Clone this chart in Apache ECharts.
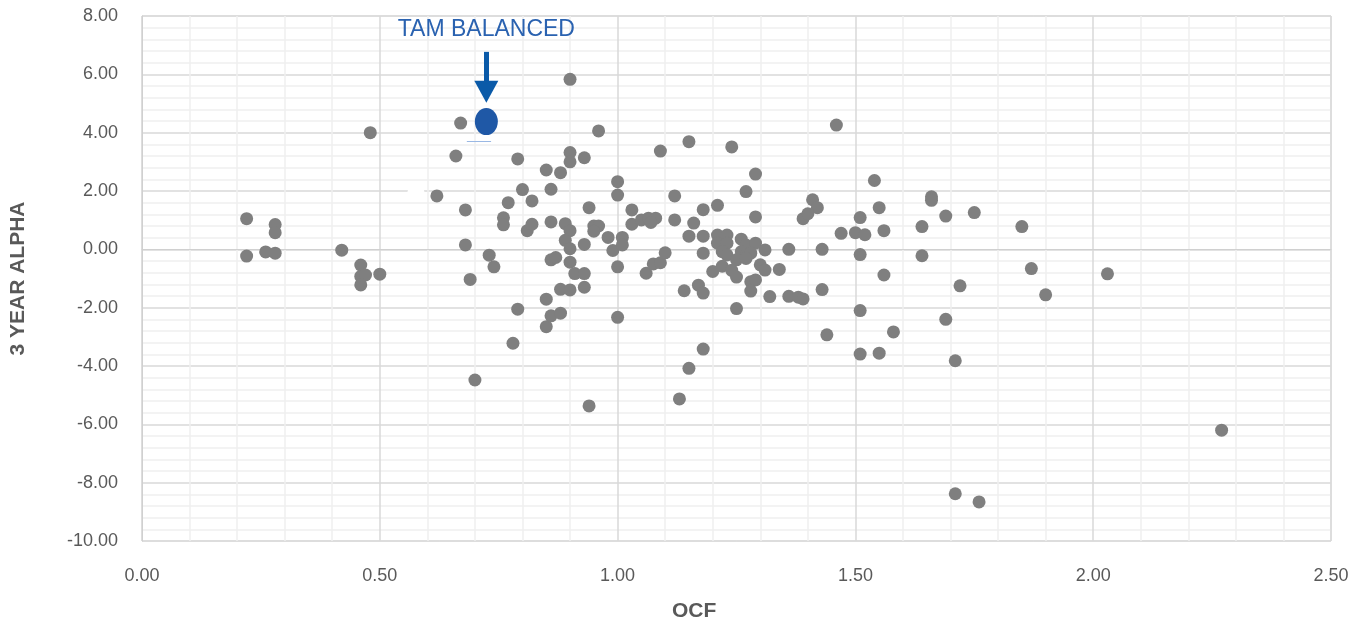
<!DOCTYPE html>
<html>
<head>
<meta charset="utf-8">
<script src="https://cdn.jsdelivr.net/npm/echarts@6/dist/echarts.min.js"></script>
<style>
html,body{margin:0;padding:0;background:#fff;}
#chart{width:1358px;height:632px;}
</style>
</head>
<body>
<div id="chart"></div>
<script>
// OCF (x) values of all funds
const ocf = [0.22,0.22,0.28,0.28,0.26,0.28,0.42,0.46,0.46,0.47,0.46,0.50,0.48,0.62,0.67,0.66,0.68,0.68,0.69,0.70,
0.73,0.74,0.76,0.76,0.77,0.78,0.79,0.79,0.80,0.81,0.82,0.82,0.85,0.86,0.86,0.85,0.85,0.86,0.88,0.86,
0.87,0.88,0.88,0.90,0.93,0.90,0.90,0.90,0.93,0.96,0.89,0.90,0.89,0.90,0.90,0.91,0.93,0.93,0.94,0.95,
0.96,0.95,0.98,0.99,1.00,1.00,1.00,1.00,0.94,1.01,1.01,1.03,1.03,1.05,1.065,1.08,1.07,1.06,1.075,1.09,
1.10,1.09,1.12,1.12,1.15,1.16,1.15,1.18,1.18,1.18,1.21,1.14,1.17,1.18,1.18,1.15,1.13,1.24,1.29,1.27,
1.29,1.21,1.23,1.21,1.23,1.22,1.23,1.26,1.27,1.29,1.26,1.27,1.25,1.28,1.27,1.31,1.30,1.31,1.20,1.22,
1.24,1.25,1.28,1.29,1.28,1.25,1.34,1.32,1.36,1.38,1.39,1.36,1.43,1.43,1.44,1.39,1.41,1.42,1.40,1.46,
1.47,1.50,1.52,1.51,1.54,1.55,1.56,1.51,1.56,1.51,1.58,1.51,1.55,1.64,1.64,1.66,1.66,1.69,1.75,1.69,
1.72,1.71,1.85,1.87,1.90,2.03,2.27,1.71,1.76];
// 3 year alpha (y) values of all funds
const alpha = [1.05,-0.23,0.85,0.57,-0.09,-0.13,-0.03,-0.54,-0.93,-0.88,-1.22,-0.85,4.00,1.83,4.33,3.20,1.35,0.15,-1.03,-4.48,
-0.20,-0.60,1.08,0.84,1.60,-3.22,3.10,-2.05,2.05,0.64,0.86,1.66,2.72,2.06,0.94,-1.71,-2.65,-2.28,-2.19,-0.36,
-0.28,2.63,-1.37,-1.39,-1.30,5.83,3.32,3.00,3.14,4.06,0.88,0.64,0.31,0.02,-0.44,-0.83,-0.83,0.17,1.43,0.80,
0.80,0.62,0.41,-0.04,2.32,1.86,-0.60,-2.33,-5.37,0.41,0.15,1.35,0.86,1.01,1.07,1.07,0.92,-0.82,-0.50,-0.46,
-0.12,3.37,1.83,1.01,3.69,0.90,0.45,0.45,-0.13,1.36,1.51,-1.42,-1.23,-1.50,-3.42,-4.08,-5.13,3.51,2.58,1.98,
1.11,0.49,0.49,0.21,0.21,-0.08,-0.19,0.35,0.15,0.21,-0.08,-0.19,-0.36,-0.13,-0.31,-0.02,-0.53,-0.71,-0.76,-0.58,
-0.72,-0.95,-1.11,-1.05,-1.43,-2.03,-0.69,-1.62,-1.61,-1.64,-1.70,0.00,0.00,-1.38,-2.93,1.05,1.70,1.43,1.22,4.26,
0.55,0.57,0.50,1.09,2.36,1.43,0.64,-0.18,-0.88,-2.10,-2.83,-3.59,-3.56,0.78,-0.22,1.80,1.68,1.14,1.26,-2.40,
-1.25,-3.82,0.78,-0.66,-1.56,-0.84,-6.20,-8.38,-8.66];
// highlighted fund
const tamName = 'TAM BALANCED';
const tamOcf = [0.724];
const tamAlpha = [4.38];
// hidden (white) point
const hiddenOcf = [0.576];
const hiddenAlpha = [1.97];

const fundData = ocf.map((x, i) => [x, alpha[i]]);
const tamData = tamOcf.map((x, i) => [x, tamAlpha[i]]);
const hiddenData = hiddenOcf.map((x, i) => [x, hiddenAlpha[i]]);

const chart = echarts.init(document.getElementById('chart'), null, {renderer: 'canvas'});
const labelFont = '"Liberation Sans", Arial, sans-serif';
chart.setOption({
  animation: false,
  backgroundColor: '#fff',
  grid: {left: 142, right: 27, top: 16, bottom: 91, show: true, borderColor: '#d9d9d9', borderWidth: 1},
  xAxis: {
    type: 'value', min: 0, max: 2.5, interval: 0.5,
    axisLine: {show: true, lineStyle: {color: '#d0d0d0', width: 1}},
    axisTick: {show: false},
    axisLabel: {formatter: v => v.toFixed(2), color: '#595959', fontSize: 18, fontFamily: labelFont, margin: 26},
    splitLine: {show: true, lineStyle: {color: '#d9d9d9', width: 1.5}},
    minorTick: {show: false, splitNumber: 5},
    minorSplitLine: {show: true, lineStyle: {color: '#f0f0f0', width: 1.5}}
  },
  yAxis: {
    type: 'value', min: -10, max: 8, interval: 2,
    axisLine: {show: true, lineStyle: {color: '#d0d0d0', width: 1}},
    axisTick: {show: false},
    axisLabel: {formatter: v => v.toFixed(2), color: '#595959', fontSize: 18, fontFamily: labelFont, margin: 24},
    splitLine: {show: true, lineStyle: {color: '#d9d9d9', width: 1.5}},
    minorTick: {show: false, splitNumber: 5},
    minorSplitLine: {show: true, lineStyle: {color: '#f0f0f0', width: 1.5}},
    name: '3 YEAR ALPHA', nameLocation: 'middle', nameGap: 113, nameRotate: 90,
    nameTextStyle: {color: '#595959', fontSize: 21, fontWeight: 'bold', fontFamily: labelFont}
  },
  graphic: [{
    type: 'text', left: 672, top: 601,
    style: {text: 'OCF', fill: '#595959', font: 'bold 21px "Liberation Sans", Arial, sans-serif'}
  }],
  series: [{
    type: 'scatter', name: 'Funds', data: fundData, symbol: 'circle', symbolSize: 13,
    itemStyle: {color: '#7f7f7f', opacity: 1}, silent: true, z: 3
  }, {
    type: 'scatter', name: 'hidden', data: hiddenData, symbol: 'circle', symbolSize: 17,
    itemStyle: {color: '#ffffff', opacity: 1}, silent: true, z: 2
  }, {
    type: 'scatter', name: tamName, data: tamData, symbol: 'circle', symbolSize: [23, 27],
    itemStyle: {color: '#1f58a6', opacity: 1}, silent: true, z: 4,
    label: {
      show: true, formatter: tamName, position: 'top', distance: 67, opacity: 1,
      color: '#2a62b0', fontSize: 23, fontFamily: labelFont
    },
    markLine: {
      silent: true, animation: false, label: {show: false},
      data: [
        [{coord: [0.724, 6.77], symbol: 'none', lineStyle: {color: '#0a5aa8', width: 5, type: 'solid', opacity: 1}},
         {coord: [0.724, 5.40], symbol: 'triangle', symbolSize: [24, 22]}],
        [{coord: [0.683, 3.71], symbol: 'none', lineStyle: {color: '#9ab8e4', width: 1, type: 'solid', opacity: 1}},
         {coord: [0.734, 3.71], symbol: 'none'}]
      ]
    }
  }]
});
</script>
</body>
</html>
